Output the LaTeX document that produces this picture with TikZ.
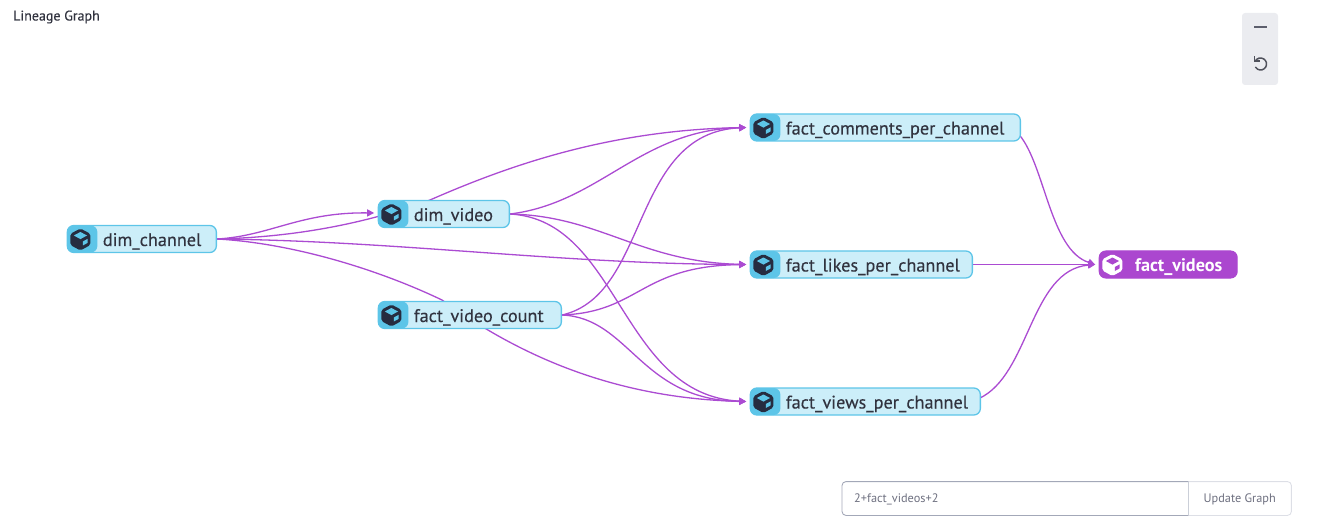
\documentclass[tikz,border=0pt]{standalone}
\usepackage{fontspec}
\setmainfont{PT Sans}
\newfontfamily\heavyfont[FakeBold=0.25]{PT Sans}
\usetikzlibrary{arrows.meta,calc}
\pgfdeclarelayer{edges}
\pgfsetlayers{edges,main}
\definecolor{edgec}{HTML}{AB4BD2}
\definecolor{nodefill}{HTML}{CCEEF9}
\definecolor{nodeline}{HTML}{5DC5E8}
\definecolor{inkc}{HTML}{31333F}
\definecolor{iconc}{HTML}{262C40}
\definecolor{selc}{HTML}{AB47CF}
\definecolor{panelc}{HTML}{EBECF0}
\definecolor{uitext}{HTML}{6E7080}
\definecolor{inputline}{HTML}{A3A8B8}
\definecolor{btnline}{HTML}{DDDFE6}
\tikzset{
  x=1pt,y=-1pt,
  gnode/.style={draw=nodeline,line width=1.3pt,fill=nodefill,rounded corners=6.5pt,
    inner xsep=0pt,inner ysep=0pt,anchor=west,text=inkc,font=\fontsize{18.2}{20}\heavyfont,
    text height=20.5pt,text depth=6.5pt,
    text width=#1pt,align=left,execute at begin node={\hspace*{35.5pt}},
    path picture={\fill[nodeline] (path picture bounding box.north west) rectangle ([xshift=30pt]path picture bounding box.south west);}},
  selnode/.style={draw=selc,line width=1pt,fill=selc,rounded corners=6.5pt,
    inner xsep=0pt,inner ysep=0pt,anchor=west,text=white,font=\fontsize{18.2}{20}\selectfont\bfseries,
    text height=20.5pt,text depth=6.5pt,
    text width=#1pt,align=left,execute at begin node={\hspace*{36pt}}},
  conn/.style={draw=edgec,line width=1.3pt,-{Triangle[length=7pt,width=7pt]}},
  panelnode/.style={fill=panelc,rounded corners=3pt,minimum width=36pt,minimum height=72pt,inner sep=0pt},
  ui/.style={text=#1,font=\fontsize{12.3}{14}\selectfont,inner sep=0pt}
}
\newcommand{\cubeicon}[3]{% anchor, body colour, face colour
  \begin{scope}[shift={(#1)}]
    \fill[#2,rounded corners=1.8pt] (0,-11) -- (10,-5.7) -- (10,5.5) -- (0,11) -- (-10,5.5) -- (-10,-5.7) -- cycle;
    \fill[#3] (0,-7.5) -- (6.6,-4) -- (0,-.4) -- (-6.6,-4) -- cycle;
    \fill[#3] (2.4,2) -- (7.2,-.6) -- (7.2,3.4) -- (2.4,6) -- cycle;
  \end{scope}}
\begin{document}
\begin{tikzpicture}
\useasboundingbox (0,0) rectangle (1332,521);
\node[anchor=west,inner sep=0pt,text=inkc,font=\fontsize{14}{16}\heavyfont] (title) at (13,17) {Lineage Graph};

\node[gnode=149] (dc) at (66.7,239) {dim\_channel};
\node[gnode=131] (dv) at (377.7,214) {dim\_video};
\node[gnode=183] (fc) at (377.7,315) {fact\_video\_count};
\node[gnode=270] (cm) at (749.7,127.5) {fact\_comments\_per\_channel};
\node[gnode=222] (lk) at (749.7,264.5) {fact\_likes\_per\_channel};
\node[gnode=230] (vw) at (749.7,401.5) {fact\_views\_per\_channel};
\node[selnode=138] (fv) at (1098.7,264.5) {fact\_videos};

\cubeicon{$(dc.west)+(13.7,0.5)$}{iconc}{nodeline}
\cubeicon{$(dv.west)+(13.7,0.5)$}{iconc}{nodeline}
\cubeicon{$(fc.west)+(13.7,0.5)$}{iconc}{nodeline}
\cubeicon{$(cm.west)+(13.7,0.5)$}{iconc}{nodeline}
\cubeicon{$(lk.west)+(13.7,0.5)$}{iconc}{nodeline}
\cubeicon{$(vw.west)+(13.7,0.5)$}{iconc}{nodeline}
\cubeicon{$(fv.west)+(13.7,0.5)$}{white}{selc}

\coordinate (dvin) at ($(dv.west)+(-3.5,-1)$);
\coordinate (cmin) at ($(cm.west)+(-3.5,0)$);
\coordinate (lkin) at ($(lk.west)+(-3.5,0)$);
\coordinate (vwin) at ($(vw.west)+(-3.5,0)$);
\coordinate (fvin) at ($(fv.west)+(-3.5,0)$);
\coordinate (cmout) at ($(cm.east)+(-2,7)$);
\coordinate (vwout) at ($(vw.east)+(-2,-3)$);

\begin{pgfonlayer}{edges}
\draw[conn] (dc.east) .. controls (270,236) and (300,212) .. (dvin);
\draw[conn] (dc.east) .. controls (300,237) and (370,222) .. (430,200) .. controls (510,165) and (610,130) .. (cmin);
\draw[conn] (dc.east) .. controls (400,241) and (560,264) .. (lkin);
\draw[conn] (dc.east) .. controls (290,243) and (375,268) .. (442,300) .. controls (505,345) and (600,398) .. (vwin);
\draw[conn] (dv.east) .. controls (600,203) and (640,130) .. (cmin);
\draw[conn] (dv.east) .. controls (600,216) and (640,262) .. (lkin);
\draw[conn] (dv.east) .. controls (620,220) and (620,395) .. (vwin);
\draw[conn] (fc.east) .. controls (650,295) and (630,133) .. (cmin);
\draw[conn] (fc.east) .. controls (640,312) and (640,266) .. (lkin);
\draw[conn] (fc.east) .. controls (630,318) and (640,400) .. (vwin);
\draw[conn] (cmout) .. controls (1045,165) and (1050,250) .. (fvin);
\draw[conn] (lk.east) -- (fvin);
\draw[conn] (vwout) .. controls (1030,375) and (1030,270) .. (fvin);
\end{pgfonlayer}

\node[panelnode] (panel) at (1260,49) {};
\coordinate (pm) at (1260.5,27.3);
\draw[uitext!70!inkc,line width=1.8pt] ($(pm)+(-6.3,0)$) -- ($(pm)+(6.3,0)$);
\coordinate (pr) at (1260.5,64);
\draw[inkc!85,line width=1.5pt] ($(pr)+(-5.2,-3)$) arc[start angle=150,end angle=-150,radius=6pt];
\draw[inkc!85,line width=1.5pt] ($(pr)+(-5.8,-7.5)$) -- ($(pr)+(-5.8,-2.8)$) -- ($(pr)+(-1,-2.8)$);

\node[minimum height=33.5pt,minimum width=103pt,inner sep=0pt,anchor=west] (btn) at (1188,498.5) {};
\node[ui=uitext,anchor=center] (btntext) at ($(btn.center)+(0,1)$) {Update Graph};
\draw[btnline,line width=.9pt,rounded corners=4pt] (btn.north west) -- (btn.north east) -- (btn.south east) -- (btn.south west);
\node[minimum height=33.5pt,minimum width=346pt,inner sep=0pt,anchor=west] (inputbox) at (842,498.5) {};
\draw[inputline,line width=.9pt,rounded corners=4pt] (inputbox.north east) -- (inputbox.north west) -- (inputbox.south west) -- (inputbox.south east);
\draw[btnline!70!inputline,line width=.9pt] (inputbox.north east) -- (inputbox.south east);
\node[ui=uitext,anchor=west] (inputtext) at (854,499.5) {2+fact\_videos+2};
\end{tikzpicture}
\end{document}
